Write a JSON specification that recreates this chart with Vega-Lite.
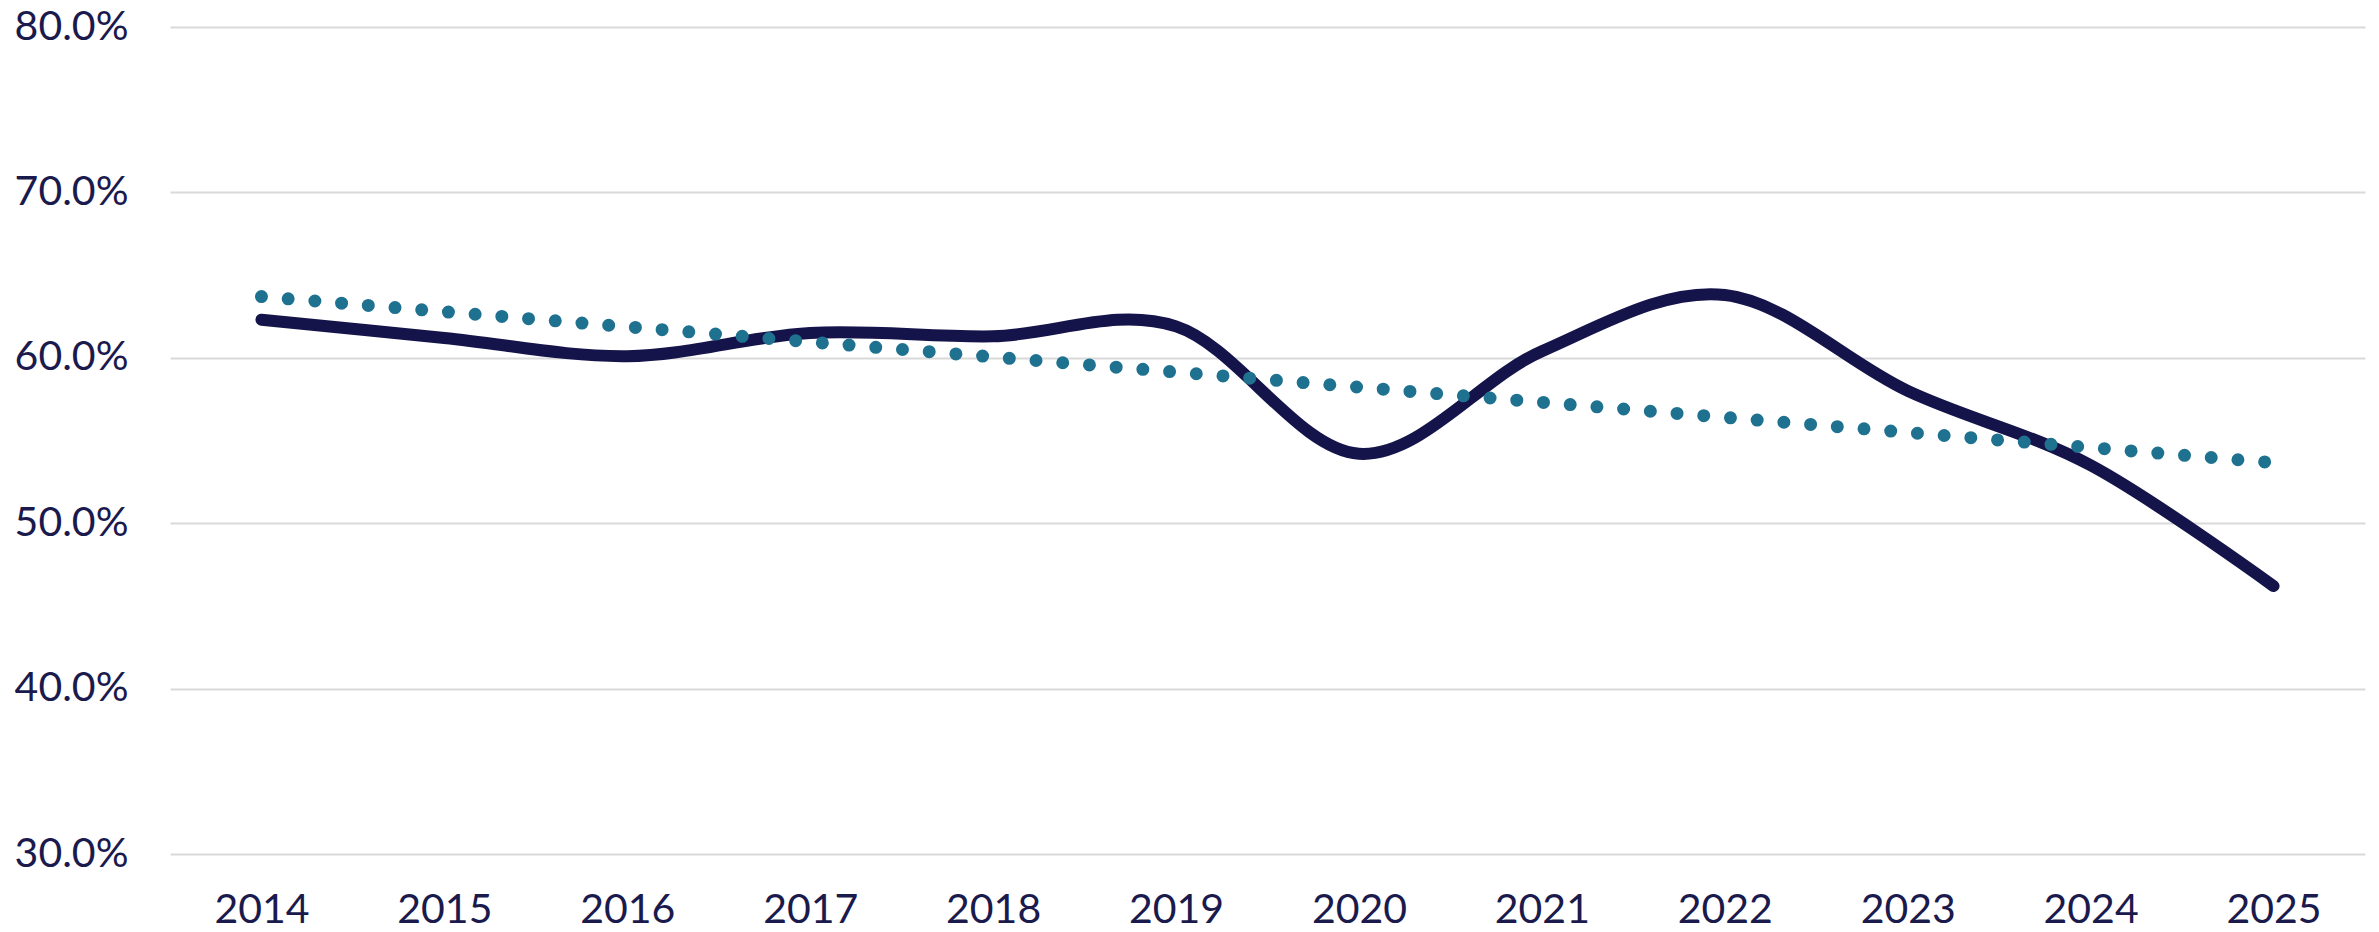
{
  "$schema": "https://vega.github.io/schema/vega-lite/v6.json",
  "autosize": {"type": "none"},
  "padding": {"left": 170, "top": 27, "right": 14, "bottom": 78},
  "width": 2195,
  "height": 827,
  "background": "#ffffff",
  "config": {
    "view": {"stroke": null},
    "axis": {
      "labelFont": "Lato",
      "labelFontSize": 41,
      "labelFontWeight": 400,
      "labelColor": "#1b1a4d",
      "domain": false,
      "ticks": false,
      "title": null
    }
  },
  "datasets": {
    "actual": [
      {"year": "2014", "value": 0.623},
      {"year": "2015", "value": 0.612},
      {"year": "2016", "value": 0.601},
      {"year": "2017", "value": 0.615},
      {"year": "2018", "value": 0.613},
      {"year": "2019", "value": 0.619},
      {"year": "2020", "value": 0.542},
      {"year": "2021", "value": 0.604},
      {"year": "2022", "value": 0.638},
      {"year": "2023", "value": 0.580},
      {"year": "2024", "value": 0.535},
      {"year": "2025", "value": 0.462}
    ],
    "trend": [
      {"year": "2014", "value": 0.637},
      {"year": "2025", "value": 0.5366}
    ]
  },
  "layer": [
    {
      "data": {"name": "actual"},
      "mark": {
        "type": "line",
        "interpolate": "cardinal",
        "tension": 0,
        "color": "#15144a",
        "strokeWidth": 12,
        "strokeCap": "round",
        "strokeJoin": "round"
      },
      "encoding": {
        "x": {
          "field": "year",
          "type": "ordinal",
          "scale": {"type": "point", "padding": 0.5},
          "axis": {"labelAngle": 0, "labelPadding": 36, "grid": false}
        },
        "y": {
          "field": "value",
          "type": "quantitative",
          "scale": {"domain": [0.3, 0.8], "nice": false, "zero": false},
          "axis": {
            "format": ".1%",
            "values": [0.3, 0.4, 0.5, 0.6, 0.7, 0.8],
            "labelPadding": 42,
            "grid": true,
            "gridColor": "#d9d9d9",
            "gridWidth": 2
          }
        }
      }
    },
    {
      "data": {"name": "trend"},
      "mark": {
        "type": "line",
        "color": "#1f7190",
        "strokeWidth": 13,
        "strokeCap": "round",
        "strokeDash": [0, 26.8]
      },
      "encoding": {
        "x": {"field": "year", "type": "ordinal"},
        "y": {"field": "value", "type": "quantitative"}
      }
    }
  ]
}
